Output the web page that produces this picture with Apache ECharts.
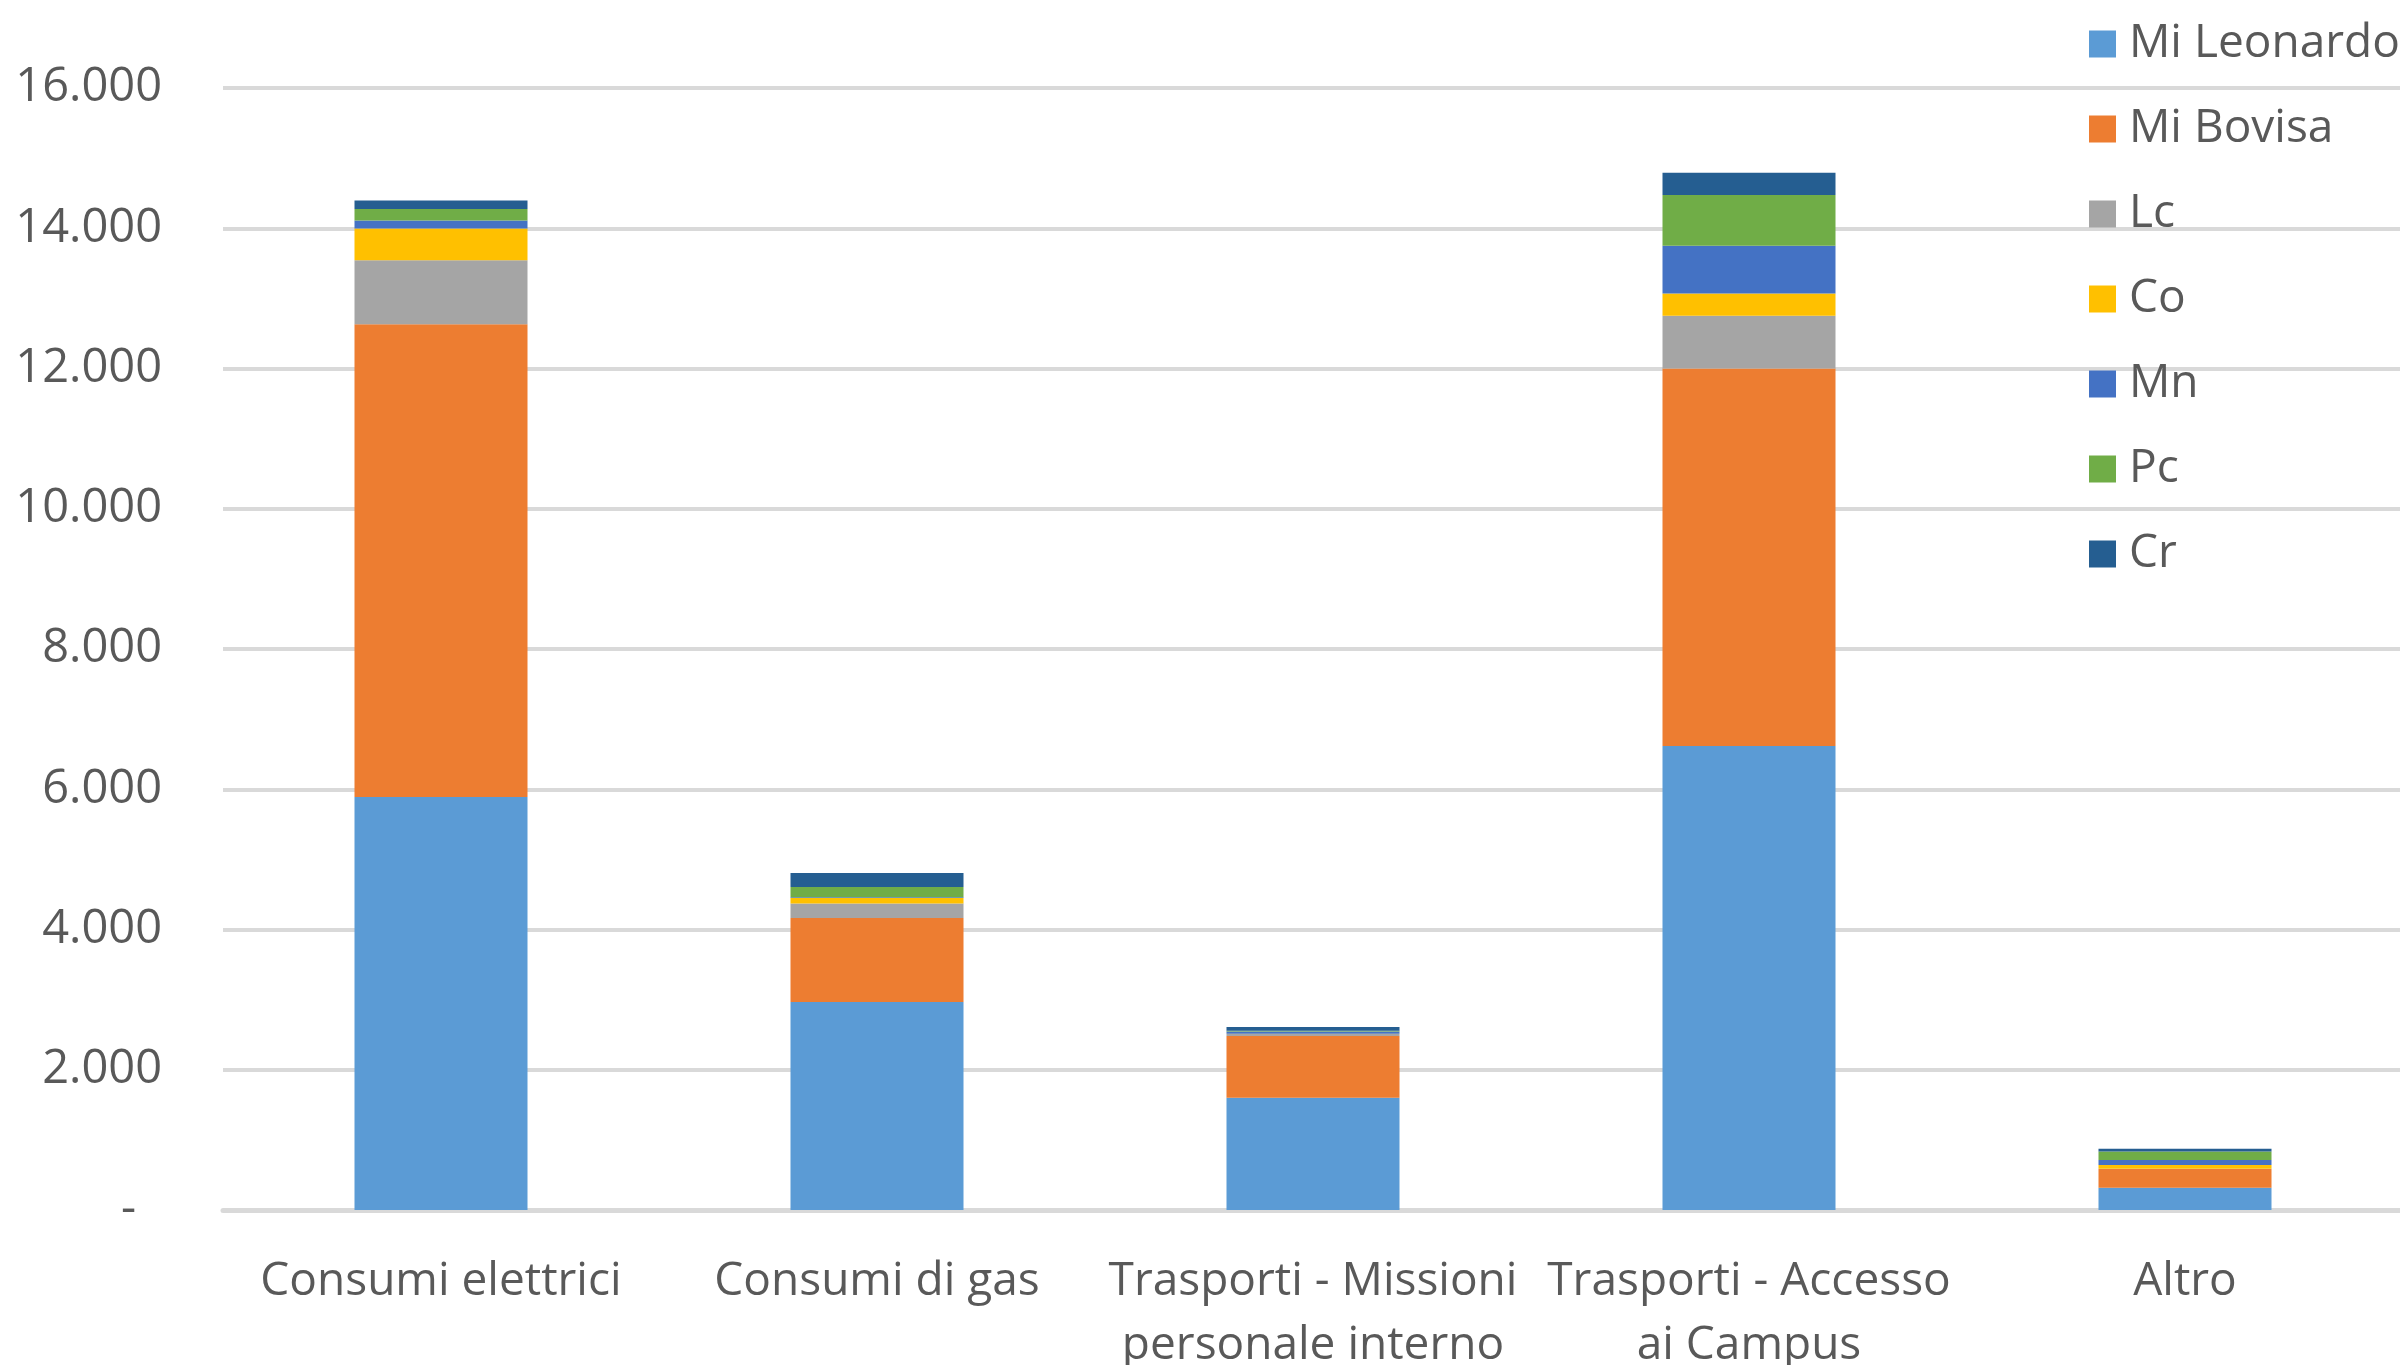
<!DOCTYPE html>
<html>
<head>
<meta charset="utf-8">
<script src="https://cdn.jsdelivr.net/npm/echarts@6/dist/echarts.min.js"></script>
<style>
  html, body { margin: 0; padding: 0; background: #fff; }
  #chart { width: 2400px; height: 1365px; }
</style>
</head>
<body>
<div id="chart"></div>
<script>
// categorie e valori
const categories = ['Consumi elettrici', 'Consumi di gas', 'Trasporti - Missioni\npersonale interno', 'Trasporti - Accesso\nai Campus', 'Altro']
const seriesNames = ['Mi Leonardo', 'Mi Bovisa', 'Lc', 'Co', 'Mn', 'Pc', 'Cr']
const miLeonardo = [5890, 2966, 1600, 6615, 318]
const miBovisa   = [6740, 1198, 880, 5385, 265]
const lc         = [915, 205, 30, 752, 6]
const co         = [450, 80, 5, 319, 51]
const mn         = [115, 10, 30, 679, 72]
const pc         = [165, 147, 10, 724, 122]
const cr         = [120, 200, 55, 318, 40]
const yTickLabels = ['-', '2.000', '4.000', '6.000', '8.000', '10.000', '12.000', '14.000', '16.000']

const colors = ['#5B9BD5', '#ED7D31', '#A5A5A5', '#FFC000', '#4472C4', '#70AD47', '#255E91']
const values = [miLeonardo, miBovisa, lc, co, mn, pc, cr]

const chart = echarts.init(document.getElementById('chart'))

const series = seriesNames.map((name, i) => ({
    name: name,
    type: 'bar',
    stack: 'tot',
    barWidth: 173,
    data: values[i],
    itemStyle: { color: colors[i] }
}))

const option = {
    animation: false,
    textStyle: { fontFamily: 'Open Sans' },
    legend: {
        orient: 'vertical',
        left: 2084,
        top: 16,
        itemWidth: 27,
        itemHeight: 27,
        itemGap: 39,
        icon: 'rect',
        data: seriesNames,
        textStyle: {
            fontSize: 46,
            lineHeight: 44,
            color: '#595959',
            fontFamily: 'Open Sans',
            padding: [0, 0, 0, 8]
        }
    },
    grid: {
        left: 223,
        width: 2180,
        top: 88,
        bottom: 155,
        outerBoundsMode: 'none'
    },
    xAxis: {
        type: 'category',
        data: categories,
        axisTick: { show: false },
        axisLine: { lineStyle: { color: '#d9d9d9', width: 5 } },
        axisLabel: {
            fontSize: 46,
            lineHeight: 64,
            color: '#595959',
            margin: 40,
            interval: 0
        }
    },
    yAxis: {
        type: 'value',
        min: 0,
        max: 16000,
        interval: 2000,
        axisLine: { show: false },
        axisTick: { show: false },
        splitLine: { lineStyle: { color: '#d9d9d9', width: 4 } },
        axisLabel: {
            fontSize: 47,
            color: '#595959',
            margin: 61,
            formatter: v => {
                const t = yTickLabels[Math.round(v / 2000)]
                return t === '-' ? '{d|-}' : t
            },
            rich: {
                d: { fontSize: 47, color: '#595959', padding: [0, 26, 0, 0] }
            }
        }
    },
    series: series
}
chart.setOption(option)
</script>
</body>
</html>
